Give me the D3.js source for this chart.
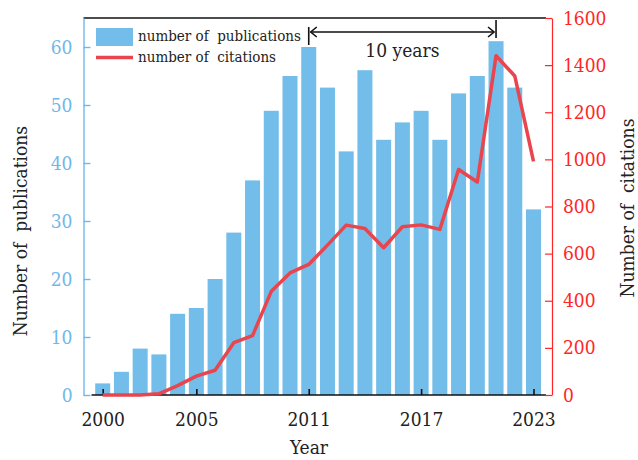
<!DOCTYPE html>
<html>
<head>
<meta charset="utf-8">
<script src="https://cdn.jsdelivr.net/npm/d3@7"></script>
<style>
  html, body { margin: 0; padding: 0; background: #fff; }
  svg { display: block; }
  text { font-family: "DejaVu Serif", "Liberation Serif", serif; font-stretch: condensed; white-space: pre; }
</style>
</head>
<body>
<svg id="chart" width="638" height="460"></svg>
<script>
// Yearly publication counts and citation totals
const years = d3.range(2000, 2024);
const publications = [2, 4, 8, 7, 14, 15, 20, 28, 37, 49, 55, 60, 53, 42, 56, 44, 47, 49, 44, 52, 55, 61, 53, 32];
const citations = [0, 0, 0, 5, 40, 80, 105, 222, 252, 440, 518, 554, 636, 721, 707, 625, 714, 722, 703, 957, 904, 1440, 1354, 992];
const yearTicks = [2000, 2005, 2011, 2017, 2023];
const pubTicks = [0, 10, 20, 30, 40, 50, 60];
const citeTicks = [0, 200, 400, 600, 800, 1000, 1200, 1400, 1600];
const legendLabels = ["number of  publications", "number of  citations"];
const spanYears = [2011, 2021];
const spanLabel = "10 years";

const barColor = "#72bde9";
const lineColor = "#e9454e";
const leftColor = "#6fb8ea";
const rightColor = "#ff2626";

const svg = d3.select("#chart");
const M = { left: 83.5, right: 552, top: 18, bottom: 395, frameRight: 546 };

const x = d3.scaleLinear().domain([2000, 2023]).range([102.7, 533.5]);
const yL = d3.scaleLinear().domain([0, 65]).range([M.bottom, M.top]);
const yR = d3.scaleLinear().domain([0, 1600]).range([M.bottom, M.top]);
const barW = 15;

// bars
svg.append("g").selectAll("rect").data(years).join("rect")
  .attr("x", (d) => x(d) - barW / 2)
  .attr("width", barW)
  .attr("y", (d, i) => yL(publications[i]))
  .attr("height", (d, i) => M.bottom - yL(publications[i]))
  .attr("fill", barColor);

// frame top line
svg.append("line").attr("x1", M.left).attr("x2", M.frameRight).attr("y1", M.top).attr("y2", M.top)
  .attr("stroke", "#111").attr("stroke-width", 1.6);

// bottom axis
const gx = svg.append("g").attr("transform", `translate(0,${M.bottom})`)
  .call(d3.axisBottom(x).tickValues(yearTicks).tickFormat(d3.format("d")).tickSizeInner(-6).tickSizeOuter(0).tickPadding(18));
gx.select(".domain").attr("d", `M${M.left + 8},0H${M.frameRight}`).attr("stroke", "#111").attr("stroke-width", 1.6);
gx.selectAll(".tick line").attr("stroke", "#111").attr("stroke-width", 1.6);
gx.selectAll(".tick text").attr("fill", "#222").attr("font-size", 19).attr("font-family", null);

// left axis
const gl = svg.append("g").attr("transform", `translate(${M.left},0)`)
  .call(d3.axisLeft(yL).tickValues(pubTicks).tickFormat(d3.format("d")).tickSizeInner(-7).tickSizeOuter(0).tickPadding(11));
gl.select(".domain").attr("stroke", leftColor).attr("stroke-width", 1.4);
gl.selectAll(".tick line").attr("stroke", leftColor).attr("stroke-width", 1.4);
gl.selectAll(".tick text").attr("fill", leftColor).attr("font-size", 19).attr("font-family", null);

// right axis
const gr = svg.append("g").attr("transform", `translate(${M.right},0)`)
  .call(d3.axisRight(yR).tickValues(citeTicks).tickFormat(d3.format("d")).tickSizeInner(-7).tickSizeOuter(0).tickPadding(11));
gr.select(".domain").attr("stroke", rightColor).attr("stroke-width", 1.2);
gr.selectAll(".tick line").attr("stroke", rightColor).attr("stroke-width", 1.2);
gr.selectAll(".tick text").attr("fill", rightColor).attr("font-size", 19).attr("font-family", null);

// citation line
const line = d3.line().x((d, i) => x(years[i])).y((d) => yR(d));
svg.append("path").datum(citations).attr("d", line)
  .attr("fill", "none").attr("stroke", lineColor).attr("stroke-width", 3.5).attr("stroke-linejoin", "round");

// axis titles
svg.append("text").attr("transform", "translate(27,231) rotate(-90)").attr("text-anchor", "middle")
  .attr("font-size", 19).attr("fill", "#222").text("Number of  publications");
svg.append("text").attr("transform", "translate(634,208) rotate(-90)").attr("text-anchor", "middle")
  .attr("font-size", 19).attr("fill", "#222").text("Number of  citations");
svg.append("text").attr("x", 309).attr("y", 454).attr("text-anchor", "middle")
  .attr("font-size", 19).attr("fill", "#222").text("Year");

// legend
svg.append("rect").attr("x", 96).attr("y", 28).attr("width", 37).attr("height", 18).attr("fill", barColor);
svg.append("line").attr("x1", 96).attr("x2", 133).attr("y1", 57.5).attr("y2", 57.5)
  .attr("stroke", lineColor).attr("stroke-width", 3.5);
svg.append("text").attr("x", 138).attr("y", 41).attr("font-size", 15).attr("fill", "#222").text(legendLabels[0]);
svg.append("text").attr("x", 138).attr("y", 62).attr("font-size", 15).attr("fill", "#222").text(legendLabels[1]);

// ten-year span annotation
const ann = svg.append("g").attr("stroke", "#111").attr("stroke-width", 1.6).attr("fill", "none");
const xa = x(spanYears[0]), xb = x(spanYears[1]), ya = 32;
ann.append("line").attr("x1", xa).attr("x2", xa).attr("y1", 27).attr("y2", 45);
ann.append("line").attr("x1", xb).attr("x2", xb).attr("y1", 20).attr("y2", 38);
ann.append("line").attr("x1", xa + 2).attr("x2", xb - 2).attr("y1", ya).attr("y2", ya);
ann.append("path").attr("d", `M${xa + 8},${ya - 5}L${xa + 2},${ya}L${xa + 8},${ya + 5}`);
ann.append("path").attr("d", `M${xb - 8},${ya - 5}L${xb - 2},${ya}L${xb - 8},${ya + 5}`);
svg.append("text").attr("x", (xa + xb) / 2).attr("y", 57).attr("text-anchor", "middle")
  .attr("font-size", 19).attr("fill", "#222").text(spanLabel);
</script>
</body>
</html>
